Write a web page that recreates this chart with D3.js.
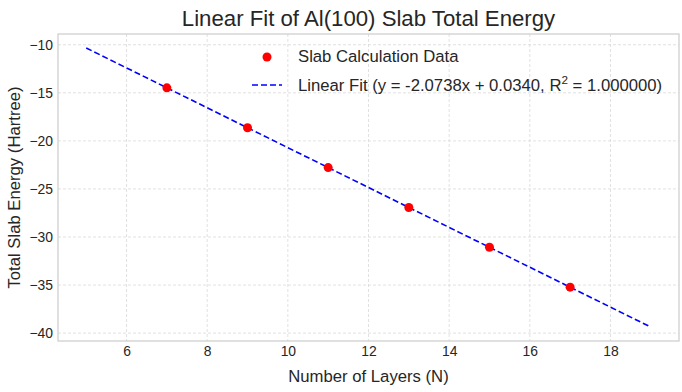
<!DOCTYPE html>
<html><head><meta charset="utf-8">
<script src="https://cdn.jsdelivr.net/npm/d3@7"></script>
<style>body{margin:0;background:#fff}svg{display:block;font-family:"Liberation Sans",Arial,sans-serif}</style>
</head><body><svg id="c" width="682" height="392"></svg>
<script>
const layers = [7, 9, 11, 13, 15, 17];
const energies = [-14.48, -18.63, -22.78, -26.93, -31.07, -35.22];
const fitX = [5, 19];
const fitY = [-10.335, -39.368];
const xTicks = [6, 8, 10, 12, 14, 16, 18];
const yTicks = [-10, -15, -20, -25, -30, -35, -40];

const svg = d3.select("#c");
const L = 58, R = 679, T = 34, B = 341;
const x = d3.scaleLinear().domain([4.3, 19.7]).range([L, R]);
const y = d3.scaleLinear().domain([-40.82, -8.88]).range([B, T]);

// grid
const g = svg.append("g");
g.selectAll(".gx").data(xTicks).join("line")
  .attr("x1", d => x(d)).attr("x2", d => x(d)).attr("y1", T).attr("y2", B)
  .attr("stroke", "#d9d9d9").attr("stroke-width", 0.8).attr("stroke-dasharray", "3,2");
g.selectAll(".gy").data(yTicks).join("line")
  .attr("x1", L).attr("x2", R).attr("y1", d => y(d)).attr("y2", d => y(d))
  .attr("stroke", "#d9d9d9").attr("stroke-width", 0.8).attr("stroke-dasharray", "3,2");

// axes (ticks only labels)
const xa = svg.append("g").attr("transform", `translate(0,${B})`)
  .call(d3.axisBottom(x).tickValues(xTicks).tickSize(0).tickPadding(5).tickFormat(d3.format("d")));
const ya = svg.append("g").attr("transform", `translate(${L},0)`)
  .call(d3.axisLeft(y).tickValues(yTicks).tickSize(0).tickPadding(5).tickFormat(d => d < 0 ? "\u2212" + Math.abs(d) : d));
[xa, ya].forEach(a => {
  a.select(".domain").remove();
  a.selectAll("text").attr("font-size", 13.9).attr("fill", "#262626")
    .attr("font-family", "'Liberation Sans',Arial,sans-serif");
});

// frame
svg.append("rect").attr("x", L).attr("y", T).attr("width", R - L).attr("height", B - T)
  .attr("fill", "none").attr("stroke", "#cccccc").attr("stroke-width", 1.2);

// fit line
svg.append("path").datum(fitX.map((d, i) => [d, fitY[i]]))
  .attr("d", d3.line().x(d => x(d[0])).y(d => y(d[1])))
  .attr("fill", "none").attr("stroke", "#0000ff").attr("stroke-width", 1.6)
  .attr("stroke-dasharray", "6,3");

// points
svg.selectAll(".pt").data(layers).join("circle")
  .attr("cx", d => x(d)).attr("cy", (d, i) => y(energies[i])).attr("r", 4.5)
  .attr("fill", "#ff0000");

// title & labels
svg.append("text").attr("x", (L + R) / 2).attr("y", 26).attr("text-anchor", "middle")
  .attr("font-size", 22.2).attr("fill", "#262626").text("Linear Fit of Al(100) Slab Total Energy");
svg.append("text").attr("x", (L + R) / 2).attr("y", 382).attr("text-anchor", "middle")
  .attr("font-size", 16.7).attr("fill", "#262626").text("Number of Layers (N)");
svg.append("text").attr("transform", `translate(20,${(T + B) / 2}) rotate(-90)`).attr("text-anchor", "middle")
  .attr("font-size", 16.7).attr("fill", "#262626").text("Total Slab Energy (Hartree)");

// legend
const lg = svg.append("g");
lg.append("circle").attr("cx", 267).attr("cy", 57).attr("r", 4.5).attr("fill", "#ff0000");
lg.append("text").attr("x", 298).attr("y", 62).attr("font-size", 16.7).attr("fill", "#262626").text("Slab Calculation Data");
lg.append("line").attr("x1", 252).attr("x2", 282).attr("y1", 85).attr("y2", 85)
  .attr("stroke", "#0000ff").attr("stroke-width", 1.6).attr("stroke-dasharray", "6,3");
const t2 = lg.append("text").attr("x", 298).attr("y", 91).attr("font-size", 16.7).attr("fill", "#262626");
t2.append("tspan").text("Linear Fit (y = -2.0738x + 0.0340, R");
t2.append("tspan").attr("dy", -7).attr("font-size", 11.7).text("2");
t2.append("tspan").attr("dy", 7).text(" = 1.000000)");
</script></body></html>
